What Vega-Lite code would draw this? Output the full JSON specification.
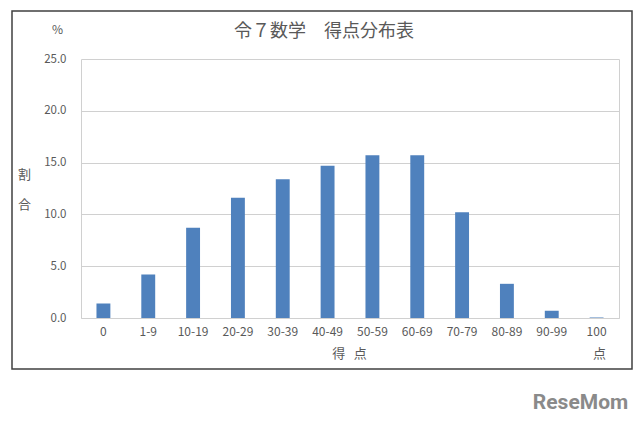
{
  "$schema": "https://vega.github.io/schema/vega-lite/v6.json",
  "width": 620,
  "height": 358,
  "autosize": {"type": "none"},
  "padding": {"left": 12, "top": 11, "right": 8, "bottom": 56},
  "background": "white",
  "title": {"text": "令７数学　得点分布表", "font": "Noto Sans CJK JP", "fontSize": 18, "fontWeight": "normal", "color": "#595959", "anchor": "middle", "offset": -30, "dx": 2},
  "data": {"values": [
    {"score": "0", "pct": 1.4},
    {"score": "1-9", "pct": 4.2},
    {"score": "10-19", "pct": 8.7},
    {"score": "20-29", "pct": 11.6},
    {"score": "30-39", "pct": 13.4},
    {"score": "40-49", "pct": 14.7},
    {"score": "50-59", "pct": 15.7},
    {"score": "60-69", "pct": 15.7},
    {"score": "70-79", "pct": 10.2},
    {"score": "80-89", "pct": 3.3},
    {"score": "90-99", "pct": 0.7},
    {"score": "100", "pct": 0.05}
  ]},
  "layer": [
    {
      "mark": {"type": "bar", "width": {"band": 0.31}, "color": "#4F81BD"},
      "encoding": {
        "x": {"field": "score", "type": "nominal", "sort": null,
          "scale": {"range": [69, 607], "paddingInner": 0, "paddingOuter": 0},
          "axis": {"orient": "bottom", "offset": -51, "labelAngle": 0, "ticks": false, "domainColor": "#D0D0D0", "labelPadding": 8, "labelFontSize": 12,
            "title": "得\u00a0\u00a0\u00a0点", "titleX": 337, "titleY": 35, "titleBaseline": "middle", "titleAlign": "center"}},
        "y": {"field": "pct", "type": "quantitative",
          "scale": {"domain": [0, 25], "range": [307, 48], "nice": false},
          "axis": {"orient": "left", "offset": -69, "values": [0, 5, 10, 15, 20, 25], "format": ".1f", "grid": true, "gridColor": "#D0D0D0", "ticks": false, "domainColor": "#D0D0D0", "labelPadding": 15,
            "title": ["割", "合"], "titleAngle": 0, "titleX": -57, "titleY": 163, "titleBaseline": "middle", "titleAlign": "center", "titleLineHeight": 30}}
      }
    },
    {
      "mark": {"type": "bar", "width": {"band": 0.31}, "opacity": 0},
      "encoding": {
        "x": {"field": "score", "type": "nominal", "sort": null,
          "axis": {"orient": "bottom", "offset": -51, "labels": false, "ticks": false, "domain": false, "grid": false,
            "title": "点", "titleX": 587, "titleY": 35, "titleBaseline": "middle", "titleAlign": "center"}},
        "y": {"field": "pct", "type": "quantitative",
          "axis": {"orient": "right", "offset": -13, "labels": false, "ticks": false, "grid": false, "domainColor": "#D0D0D0",
            "title": "%", "titleAngle": 0, "titleX": -562, "titleY": 18, "titleBaseline": "middle", "titleAlign": "center", "titleFontSize": 12}}
      }
    },
    {
      "mark": {"type": "bar", "width": {"band": 0.31}, "opacity": 0},
      "encoding": {
        "x": {"field": "score", "type": "nominal", "sort": null,
          "axis": {"orient": "top", "labels": false, "ticks": false, "domain": false, "grid": false,
            "title": "ReseMom", "titleX": 568, "titleY": 391, "titleBaseline": "middle", "titleAlign": "center", "titleFont": "Roboto", "titleFontSize": 21, "titleFontWeight": "bold", "titleColor": "#8a8a8a"}},
        "y": {"field": "pct", "type": "quantitative", "axis": null}
      }
    }
  ],
  "resolve": {"axis": {"x": "independent", "y": "independent"}},
  "config": {
    "view": {"stroke": "#404040", "strokeWidth": 1.5},
    "axis": {"labelFont": "Noto Sans CJK JP", "labelFontSize": 11.5, "labelColor": "#595959", "titleFont": "Noto Sans CJK JP", "titleFontSize": 13, "titleFontWeight": "normal", "titleColor": "#595959"}
  }
}
